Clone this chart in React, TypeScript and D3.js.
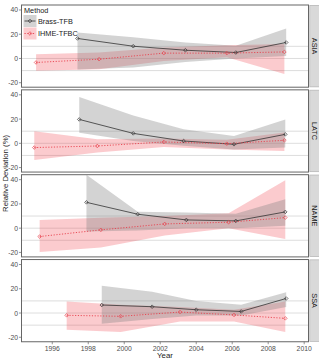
import * as d3 from "d3";

// Regions shown as facets, top to bottom
const regions = ["ASIA", "LATC", "NAME", "SSA"];

// Brass-TFB estimates per region: year, deviation, ribbon bounds
const brassYears = [
  [1997.4, 2000.5, 2003.4, 2006.2, 2009.0],
  [1997.5, 2000.5, 2003.3, 2006.1, 2008.95],
  [1997.9, 2000.75, 2003.45, 2006.2, 2008.95],
  [1998.75, 2001.55, 2004.0, 2006.5, 2009.0],
];
const brassValues = [
  [16.5, 10.1, 6.8, 4.9, 13.2],
  [19.7, 8.2, 1.9, -0.8, 7.4],
  [21.3, 11.5, 6.8, 6.0, 13.4],
  [6.6, 5.2, 2.7, 1.3, 12.0],
];
const brassLower = [
  [-9, -7.5, -3, 0, 2],
  [8.8, 2, -2, -5, -3.5],
  [-2.8, -2, 0, 0, 2],
  [-8.8, -5, -2, -2, 5],
];
const brassUpper = [
  [21.5, 17.5, 13.2, 10.4, 24.7],
  [38.3, 23, 11.5, 6, 19.7],
  [44, 13.6, 13, 11.8, 23.8],
  [22.4, 17.5, 10, 6.8, 17.2],
];

// IHME-TFBC estimates per region
const ihmeYears = [
  [1995.1, 1998.6, 2002.2, 2005.7, 2008.9],
  [1995.0, 1998.5, 2002.2, 2005.7, 2008.9],
  [1995.3, 1998.7, 2002.25, 2005.8, 2008.95],
  [1996.8, 1999.8, 2003.1, 2006.1, 2008.95],
];
const ihmeValues = [
  [-3.3, -0.6, 4.4, 4.4, 5.4],
  [-3.5, -2.2, 1.1, -0.3, 2.5],
  [-6.9, -1.4, 3.5, 4.9, 8.7],
  [-1.9, -2.7, 0.8, -1.6, -4.4],
];
const ihmeLower = [
  [-10.2, -8.8, -2, 1, -12.9],
  [-13.7, -7.5, -3, -5, -6.3],
  [-19.7, -16, -6, 0, -9],
  [-13.7, -15.6, -7, -6.9, -15.6],
];
const ihmeUpper = [
  [3.5, 4.9, 9, 11, 12],
  [10, 3.3, 4, 3, 9],
  [6.8, 8.5, 10, 12.3, 39.6],
  [9.5, 6.8, 5, 2.7, 9.5],
];

const yTicks = [-20, 0, 20, 40];
const refLines = [-10, 0, 10];
const xTicks = [1996, 1998, 2000, 2002, 2004, 2006, 2008, 2010];

const W = 319;
const H = 360;
const left = 21.5;
const right = 308.5;
const top0 = 5;
const panelH = 82.2;
const gap = 2.65;

const BRASS_FILL = "#808080";
const IHME_FILL = "#f0303c";
const IHME_LINE = "#e8404c";

type Pt = { year: number; v: number; lo: number; hi: number };

function series(years: number[], vals: number[], lo: number[], hi: number[]): Pt[] {
  return years.map((year, i) => ({ year, v: vals[i], lo: lo[i], hi: hi[i] }));
}

function diamond(cx: number, cy: number, r: number) {
  return `M${cx},${cy - r}L${cx + r},${cy}L${cx},${cy + r}L${cx - r},${cy}Z`;
}

export default function App() {
  const x = d3.scaleLinear().domain([1994.29, 2010.24]).range([left, right]);
  const y = d3.scaleLinear().domain([-23.7, 44.1]).range([panelH, 0]);

  const band = d3
    .area<Pt>()
    .x((d) => x(d.year))
    .y0((d) => y(d.lo))
    .y1((d) => y(d.hi));
  const line = d3
    .line<Pt>()
    .x((d) => x(d.year))
    .y((d) => y(d.v));

  const lastBottom = top0 + 3 * (panelH + gap) + panelH;
  const font = "'Liberation Sans', Arial, sans-serif";

  return (
    <svg
      width={W}
      height={H}
      style={{ position: "absolute", left: 0, top: 0, background: "#fff", fontFamily: font }}
    >
      <defs>
        {regions.map((r) => (
          <clipPath id={`clip-${r}`} key={r}>
            <rect x={left} y={0} width={right - left} height={panelH} />
          </clipPath>
        ))}
      </defs>
      {regions.map((r, i) => {
        const py = top0 + i * (panelH + gap);
        const brass = series(brassYears[i], brassValues[i], brassLower[i], brassUpper[i]);
        const ihme = series(ihmeYears[i], ihmeValues[i], ihmeLower[i], ihmeUpper[i]);
        return (
          <g key={r} transform={`translate(0,${py})`}>
            <rect x={left} y={0} width={right - left} height={panelH} fill="#fff" />
            {refLines.map((v) => (
              <line
                key={v}
                x1={left}
                x2={right}
                y1={y(v)}
                y2={y(v)}
                stroke="#d9d9d9"
                strokeWidth={0.9}
              />
            ))}
            <g clipPath={`url(#clip-${r})`}>
              <path d={band(ihme) ?? ""} fill={IHME_FILL} fillOpacity={0.25} />
              <path d={band(brass) ?? ""} fill={BRASS_FILL} fillOpacity={0.35} />
              <path d={line(brass) ?? ""} fill="none" stroke="#333" strokeWidth={0.8} />
              <path
                d={line(ihme) ?? ""}
                fill="none"
                stroke={IHME_LINE}
                strokeWidth={0.9}
                strokeDasharray="1.2,1.6"
              />
              {brass.map((d, j) => (
                <path
                  key={`b${j}`}
                  d={diamond(x(d.year), y(d.v), 1.8)}
                  fill="none"
                  stroke="#333"
                  strokeWidth={0.7}
                />
              ))}
              {ihme.map((d, j) => (
                <path
                  key={`h${j}`}
                  d={diamond(x(d.year), y(d.v), 1.8)}
                  fill="none"
                  stroke={IHME_LINE}
                  strokeWidth={0.7}
                />
              ))}
            </g>
            <rect
              x={left}
              y={0}
              width={right - left}
              height={panelH}
              fill="none"
              stroke="#666"
              strokeWidth={1}
            />
            {/* facet strip */}
            <rect x={309.8} y={0.3} width={12} height={panelH - 0.6} fill="#d9d9d9" stroke="#aaa" strokeWidth={0.6} />
            <text
              transform={`translate(${314.6},${panelH / 2}) rotate(90)`}
              textAnchor="middle"
              dominantBaseline="central"
              fontSize={7.3}
              fill="#1a1a1a"
            >
              {r}
            </text>
            {yTicks.map((t) => (
              <g key={t} transform={`translate(${left},${y(t)})`}>
                <line x1={-2.5} x2={0} stroke="#666" strokeWidth={0.7} />
                <text
                  x={-3.5}
                  textAnchor="end"
                  dominantBaseline="central"
                  fontSize={6.8}
                  fill="#4d4d4d"
                >
                  {t}
                </text>
              </g>
            ))}
          </g>
        );
      })}
      {xTicks.map((t) => (
        <g key={t} transform={`translate(${x(t)},${lastBottom})`}>
          <line y1={0} y2={2.5} stroke="#666" strokeWidth={0.7} />
          <text y={9.2} textAnchor="middle" fontSize={6.8} fill="#4d4d4d">
            {t}
          </text>
        </g>
      ))}
      <text x={(left + right) / 2} y={358} textAnchor="middle" fontSize={7.8} fill="#1a1a1a">
        Year
      </text>
      <text
        transform={`translate(5,${(top0 + lastBottom) / 2}) rotate(-90)`}
        textAnchor="middle"
        dominantBaseline="central"
        fontSize={7.8}
        fill="#1a1a1a"
      >
        Relative Deviation (%)
      </text>
      {/* legend */}
      <g transform={`translate(${left + 1},${top0})`}>
        <text x={1.5} y={7.5} fontSize={7.3} fill="#1a1a1a">
          Method
        </text>
        <rect x={1} y={10} width={13} height={12} fill={BRASS_FILL} fillOpacity={0.35} />
        <line x1={2} x2={13} y1={16} y2={16} stroke="#333" strokeWidth={0.8} />
        <path d={diamond(7.5, 16, 1.8)} fill="none" stroke="#333" strokeWidth={0.7} />
        <text x={15.5} y={16} dominantBaseline="central" fontSize={7.3} fill="#1a1a1a">
          Brass-TFB
        </text>
        <rect x={1} y={22.5} width={13} height={12} fill={IHME_FILL} fillOpacity={0.25} />
        <line
          x1={2}
          x2={13}
          y1={28.5}
          y2={28.5}
          stroke={IHME_LINE}
          strokeWidth={0.9}
          strokeDasharray="1.2,1.6"
        />
        <path d={diamond(7.5, 28.5, 1.8)} fill="none" stroke={IHME_LINE} strokeWidth={0.7} />
        <text x={15.5} y={28.5} dominantBaseline="central" fontSize={7.3} fill="#1a1a1a">
          IHME-TFBC
        </text>
      </g>
    </svg>
  );
}
